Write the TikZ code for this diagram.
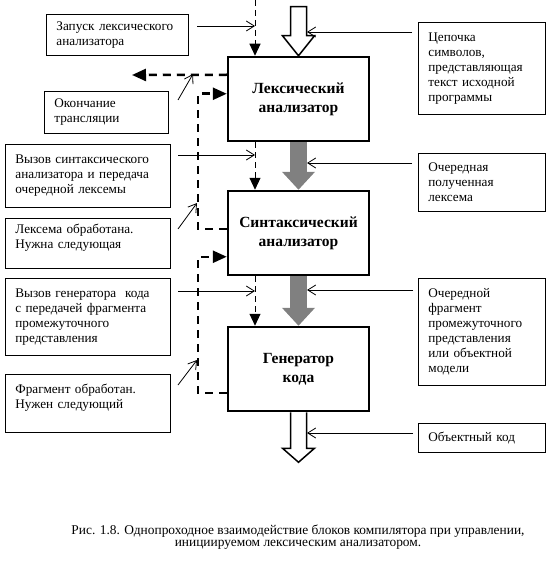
\documentclass[tikz,border=0pt]{standalone}
\usepackage{fontspec}
\setmainfont{Liberation Serif}
\usetikzlibrary{arrows.meta, positioning}

\begin{document}
\begin{tikzpicture}[x=1pt, y=-1pt, node distance=134pt, on grid,
    block/.style={rectangle, draw, line width=2.5pt, minimum width=141pt, minimum height=84pt, align=center, font=\bfseries\fontsize{15.5}{19}\selectfont},
    note/.style={rectangle, draw, line width=0.8pt, anchor=north west, inner xsep=10pt, align=left, font=\fontsize{13.2}{15}\selectfont},
    pointer/.style={line width=0.8pt, -{Straight Barb[length=8pt, width=10pt]}},
    ctrl/.style={line width=1pt, dash pattern=on 6pt off 4pt, -{Triangle[length=12pt, width=11pt]}},
    back/.style={line width=2.5pt, dash pattern=on 8pt off 6pt, -{Triangle[length=14pt, width=12pt]}},
    flow/.style={draw=gray, line width=17pt, -{Triangle[length=18pt, width=32pt]}},
    hollow/.style={draw, fill=white, line width=1.5pt}]

    \useasboundingbox (0,0) rectangle (554,567);

    \node[block] (lex) at (298.5,99) {Лексический\\анализатор};
    \node[block, below=of lex] (syn) {Синтаксический\\анализатор};
    \node[block, below=136pt of syn] (gen) {Генератор\\кода};

    \node[note, text width=122pt, minimum height=41pt] (zap) at (46,14) {Запуск лексического\\анализатора};
    \node[note, text width=104pt, minimum height=42pt] (stop) at (44,91) {Окончание\\трансляции};
    \node[note, text width=145pt, minimum height=63pt] (callsyn) at (5,144) {Вызов синтаксического\\анализатора и передача\\очередной лексемы};
    \node[note, text width=145pt, minimum height=50pt] (nextlex) at (5,218) {Лексема обработана.\\Нужна следующая\\\mbox{}};
    \node[note, text width=145pt, minimum height=77pt] (callgen) at (5,278) {Вызов генератора\ \ кода\\с передачей фрагмента\\промежуточного\\представления};
    \node[note, text width=145pt, minimum height=58pt] (nextfrag) at (5,374) {Фрагмент обработан.\\Нужен следующий\\\mbox{}};

    \node[note, text width=107pt, minimum height=92pt] (chain) at (418,22) {Цепочка\\символов,\\представляющая\\текст исходной\\программы};
    \node[note, text width=107pt, minimum height=58pt] (lexeme) at (418,153) {Очередная\\полученная\\лексема};
    \node[note, text width=107pt, minimum height=107pt] (frag) at (418,278) {Очередной\\фрагмент\\промежуточного\\представления\\или объектной\\модели};
    \node[note, text width=107pt, minimum height=29pt] (objcode) at (418,423) {Объектный код};

    % data flow
    \filldraw[hollow] (lex.north) -- ++(-16,-20) -- ++(8,0) -- ++(0,-29) -- ++(16,0) -- ++(0,29) -- ++(8,0) -- cycle;
    \draw[flow] (lex.south) -- (syn.north);
    \draw[flow] (syn.south) -- (gen.north);
    \filldraw[hollow] ([xshift=-8pt]gen.south) -- ++(0,36) -- ++(-8,0) -- ++(16,14) -- ++(16,-14) -- ++(-8,0) -- ++(0,-36);

    % control flow
    \coordinate (ctl) at (255,0);
    \coordinate (stopend) at (132,75);
    \draw[ctrl] (ctl) -- (ctl |- lex.north);
    \draw[ctrl] (ctl |- lex.south) -- (ctl |- syn.north);
    \draw[ctrl] (ctl |- syn.south) -- (ctl |- gen.north);
    \draw[back] ([yshift=-19pt]lex.north west) -- (stopend);
    \draw[back] ([yshift=-39pt]syn.north west) -- ++(-29,0) |- ([yshift=-38pt]lex.north west);
    \draw[back] ([yshift=-67pt]gen.north west) -- ++(-29,0) |- ([yshift=-67pt]syn.north west);

    \foreach \n/\tx/\ty/\hx/\hy in {zap/197/26/255/26, chain/412/32/307/32, stop/178/100/193/74,
        callsyn/178/155/255/155, lexeme/412/163/307/163, nextlex/178/229/197/203,
        callgen/178/291/255/291, frag/413/290/307/290, nextfrag/178/385/197/360, objcode/413/433/307/433} {
        \coordinate (\n-t) at (\tx,\ty);
        \coordinate (\n-h) at (\hx,\hy);
        \draw[pointer] (\n-t) -- (\n-h);
    }

    \node[align=center, font=\fontsize{13.4}{12.5}\selectfont] (caption) at (298,537) {Рис. 1.8. Однопроходное взаимодействие блоков компилятора при управлении,\\инициируемом лексическим анализатором.};
\end{tikzpicture}
\end{document}
